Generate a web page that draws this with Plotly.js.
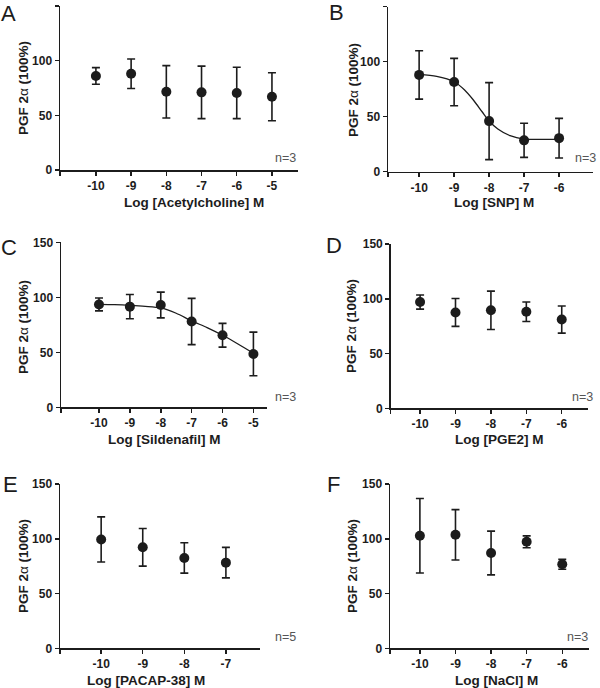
<!DOCTYPE html>
<html>
<head>
<meta charset="utf-8">
<script src="https://cdn.plot.ly/plotly-3.0.1.min.js"></script>
<style>
  body { margin: 0; background: #fff; }
  #plot { width: 600px; height: 688px; }
</style>
</head>
<body>
<div id="plot"></div>
<script>

// ---- data ----
var doseA = [-10, -9, -8, -7, -6, -5];
var meanA = [86, 88, 71.5, 71, 70.5, 67];
var semA  = [7.6, 13.5, 24, 24, 23.5, 22];

var doseB = [-10, -9, -8, -7, -6];
var meanB = [88, 81.5, 46, 28.5, 30.5];
var semB  = [22, 21.5, 35, 15.5, 18];
var curveXB = [-10, -9.5, -9, -8.7, -8.45, -8.2, -8, -7.75, -7.4, -7, -6.5, -6];
var curveYB = [88.5, 86.7, 81.8, 74.3, 65.2, 54.5, 46.1, 38.8, 32.7, 29.7, 29.4, 29.4];

var doseC = [-10, -9, -8, -7, -6, -5];
var meanC = [93.5, 91.5, 93, 78, 65.5, 48.5];
var semC  = [5.8, 11, 11.7, 21, 10.8, 19.8];
var curveXC = [-10, -9.5, -9, -8.5, -8, -7.5, -7, -6.5, -6, -5.5, -5];
var curveYC = [93.6, 93.3, 92.7, 91.8, 90.3, 85.5, 78.5, 72.5, 65.5, 57.6, 49.2];

var doseD = [-10, -9, -8, -7, -6];
var meanD = [97, 87.5, 89.5, 88.2, 81];
var semD  = [6.5, 12.7, 17.5, 8.9, 12.4];

var doseE = [-10, -9, -8, -7];
var meanE = [99.4, 92.2, 82.5, 78.2];
var semE  = [20.6, 17.2, 13.9, 13.9];

var doseF = [-10, -9, -8, -7, -6];
var meanF = [102.8, 103.6, 87, 97.2, 76.7];
var semF  = [34, 23, 20, 5.4, 4.5];

var yTicks = [0, 50, 100, 150];
var yTitle = 'PGF 2<span style="font-weight:normal">α</span> (100%)';

var panels = [
  {letter: 'A', drug: 'Acetylcholine', n: 3, x: doseA, y: meanA, e: semA, range: [-11.02, -4.26],
   box: [60, 298, 6, 170], letterAt: [8, 13], nAt: [298, 158], xt: [194, 202], yt: [23, 88]},
  {letter: 'B', drug: 'SNP', n: 3, x: doseB, y: meanB, e: semB, cx: curveXB, cy: curveYB, range: [-10.89, -5.03],
   box: [388, 593, 6.7, 171.7], letterAt: [336, 12], nAt: [598, 158], xt: [494, 203], yt: [353, 90]},
  {letter: 'C', drug: 'Sildenafil', n: 3, x: doseC, y: meanC, e: semC, cx: curveXC, cy: curveYC, range: [-11.23, -4.56],
   box: [61, 267, 242.3, 407.3], letterAt: [9, 247], nAt: [298, 397], xt: [164, 439], yt: [23, 327]},
  {letter: 'D', drug: 'PGE2', n: 3, x: doseD, y: meanD, e: semD, range: [-10.83, -5.25],
   box: [390.7, 588.3, 244, 408.3], letterAt: [334, 245], nAt: [595, 397], xt: [499, 439], yt: [352, 326]},
  {letter: 'E', drug: 'PACAP-38', n: 5, x: doseE, y: meanE, e: semE, range: [-10.99, -6.18],
   box: [60, 260, 484, 648.3], letterAt: [10, 484], nAt: [298, 637], xt: [146, 680], yt: [23, 566]},
  {letter: 'F', drug: 'NaCl', n: 3, x: doseF, y: meanF, e: semF, range: [-10.84, -5.24],
   box: [390, 589.3, 484, 648.3], letterAt: [333, 484], nAt: [590, 637], xt: [496, 680], yt: [352, 566]}
];

var W = 600, H = 688;
function px(x) { return x / W; }
function py(y) { return 1 - y / H; }

var ink = '#1c1c1c';
var fam = 'Liberation Sans, Arial, sans-serif';

var data = [];
var layout = {
  width: W, height: H,
  margin: {l: 0, r: 0, t: 0, b: 0},
  paper_bgcolor: '#fff', plot_bgcolor: '#fff',
  showlegend: false,
  annotations: []
};

panels.forEach(function (p, i) {
  var k = i === 0 ? '' : String(i + 1);
  var xa = 'x' + k, ya = 'y' + k;

  if (p.cx) {
    data.push({
      x: p.cx, y: p.cy, xaxis: xa, yaxis: ya,
      mode: 'lines', type: 'scatter',
      line: {color: ink, width: 1.3, shape: 'spline', smoothing: 0.8},
      hoverinfo: 'skip'
    });
  }

  data.push({
    x: p.x, y: p.y, xaxis: xa, yaxis: ya,
    mode: 'markers', type: 'scatter',
    marker: {color: ink, size: 10},
    error_y: {type: 'data', array: p.e, visible: true, color: ink, thickness: 1.6, width: 4}
  });

  // extra blank tick at the left end of the x axis, like the original
  var tv = [p.range[0]].concat(p.x);
  var tt = [''].concat(p.x.map(String));

  layout['xaxis' + k] = {
    domain: [px(p.box[0]), px(p.box[1])],
    anchor: ya, range: p.range,
    tickvals: tv, ticktext: tt,
    showgrid: false, zeroline: false,
    showline: true, linecolor: ink, linewidth: 1.5,
    ticks: 'outside', ticklen: 4, tickwidth: 1.5, tickcolor: ink,
    tickfont: {family: fam, size: 12, color: ink, weight: 'bold'},
    fixedrange: true
  };
  layout['yaxis' + k] = {
    domain: [py(p.box[3]), py(p.box[2])],
    anchor: xa, range: [0, 150],
    tickvals: yTicks,
    showgrid: false, zeroline: false,
    showline: true, linecolor: ink, linewidth: 1.5,
    ticks: 'outside', ticklen: 4, tickwidth: 1.5, tickcolor: ink,
    tickfont: {family: fam, size: 12, color: ink, weight: 'bold'},
    fixedrange: true
  };

  // panel letter
  layout.annotations.push({
    text: p.letter, xref: 'paper', yref: 'paper',
    x: px(p.letterAt[0]), y: py(p.letterAt[1]),
    xanchor: 'center', yanchor: 'middle', showarrow: false,
    font: {family: fam, size: 22, color: ink}
  });
  // n = ...
  layout.annotations.push({
    text: 'n=' + p.n, xref: 'paper', yref: 'paper',
    x: px(p.nAt[0]), y: py(p.nAt[1]),
    xanchor: 'right', yanchor: 'middle', showarrow: false,
    font: {family: fam, size: 12.5, color: '#555'}
  });
  // x title
  layout.annotations.push({
    text: 'Log [' + p.drug + '] M', xref: 'paper', yref: 'paper',
    x: px(p.xt[0]), y: py(p.xt[1]),
    xanchor: 'center', yanchor: 'middle', showarrow: false,
    font: {family: fam, size: 13.5, color: ink, weight: 'bold'}
  });
  // y title
  layout.annotations.push({
    text: yTitle, xref: 'paper', yref: 'paper',
    x: px(p.yt[0]), y: py(p.yt[1]),
    xanchor: 'center', yanchor: 'middle', showarrow: false, textangle: -90,
    font: {family: fam, size: 13.5, color: ink, weight: 'bold'}
  });
});

Plotly.newPlot('plot', data, layout, {staticPlot: true});
</script>
</body>
</html>
